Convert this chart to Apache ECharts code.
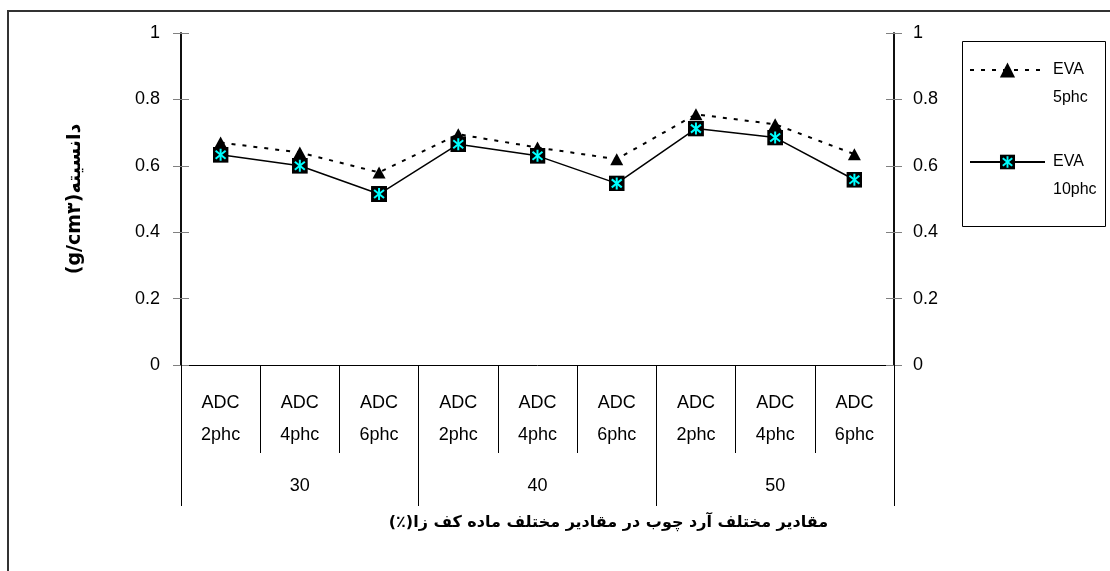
<!DOCTYPE html>
<html>
<head>
<meta charset="utf-8">
<script src="https://cdn.jsdelivr.net/npm/echarts@6/dist/echarts.min.js"></script>
<style>
html,body{margin:0;padding:0;background:#fff;}
#chart{width:1110px;height:571px;}
</style>
</head>
<body>
<div id="chart"></div>
<script>
// ---- data ----
const categories = ['ADC\n2phc','ADC\n4phc','ADC\n6phc','ADC\n2phc','ADC\n4phc','ADC\n6phc','ADC\n2phc','ADC\n4phc','ADC\n6phc'];
const groups = ['30','40','50'];
const seriesNames = ['EVA\n5phc','EVA\n10phc'];
const eva5 = [0.67, 0.64, 0.58, 0.695, 0.655, 0.62, 0.755, 0.725, 0.635];
const eva10 = [0.633, 0.60, 0.515, 0.665, 0.63, 0.547, 0.712, 0.685, 0.558];
const yTicks = {min: 0, max: 1, interval: 0.2};
const xTitle = '\u202Bمقادیر مختلف آرد چوب در مقادیر مختلف ماده کف زا(٪)\u202C';
const yTitle = '(g/cm\u06F3)دانسیته';

// ---- symbols ----
const svg = '<svg xmlns="http://www.w3.org/2000/svg" width="32" height="32" viewBox="0 0 16 16">' +
  '<rect x="0" y="0" width="16" height="16" fill="#000"/>' +
  '<g stroke="#00FFFF" stroke-width="2" stroke-linecap="butt">' +
  '<line x1="8" y1="2" x2="8" y2="14"/>' +
  '<line x1="3" y1="4" x2="13" y2="12"/>' +
  '<line x1="13" y1="4" x2="3" y2="12"/>' +
  '</g></svg>';
const sqSymbol = 'image://data:image/svg+xml;utf8,' + encodeURIComponent(svg);

const chart = echarts.init(document.getElementById('chart'));
const baseFont = "'Liberation Sans', Arial, sans-serif";
const tickGray = '#808080';

function yAx(pos, inside, withLabels) {
  return {
    type: 'value', position: pos, min: yTicks.min, max: yTicks.max, interval: yTicks.interval,
    splitLine: {show: false},
    axisLine: {show: true, onZero: false, lineStyle: {color: '#000', width: 1.5}},
    axisTick: {show: true, inside: inside, length: 8, lineStyle: {color: tickGray, width: 1}},
    axisLabel: {show: withLabels, fontSize: 18, color: '#000', fontFamily: baseFont, margin: pos === 'left' ? 21 : 19}
  };
}

const yAxes = [yAx('left', false, true), yAx('left', true, false), yAx('right', false, true), yAx('right', true, false)];
yAxes[0].name = yTitle;
yAxes[0].nameLocation = 'middle';
yAxes[0].nameGap = 96;
yAxes[0].nameTextStyle = {fontSize: 19, fontWeight: 'bold', color: '#000', fontFamily: "'DejaVu Sans', sans-serif"};

const option = {
  animation: false,
  backgroundColor: '#fff',
  grid: {left: 181, right: 216, top: 33, bottom: 206, containLabel: false},
  xAxis: [
    {
      type: 'category', data: categories, position: 'bottom', boundaryGap: true,
      axisLine: {show: true, onZero: false, lineStyle: {color: '#000', width: 1}},
      axisTick: {show: true, interval: 0, length: 88, lineStyle: {color: '#000', width: 1}},
      axisLabel: {interval: 0, fontSize: 18, lineHeight: 32, margin: 22, color: '#000', fontFamily: baseFont}
    },
    {
      type: 'category', data: groups, position: 'bottom', boundaryGap: true,
      axisLine: {show: false, onZero: false},
      axisTick: {show: true, interval: 0, length: 141, lineStyle: {color: '#000', width: 1}},
      axisLabel: {interval: 0, fontSize: 18, margin: 112, color: '#000', fontFamily: baseFont},
      name: xTitle, nameLocation: 'middle', nameGap: 150,
      nameTextStyle: {fontSize: 16, fontWeight: 'bold', color: '#000', fontFamily: "'DejaVu Sans', sans-serif", padding: [0, 0, 0, 142]}
    }
  ],
  yAxis: yAxes,
  legend: {
    orient: 'vertical', left: 969, top: 28, padding: 0, itemGap: 8,
    itemWidth: 75, itemHeight: 19,
    data: seriesNames,
    formatter: function (n) { return '\n' + n; },
    textStyle: {fontSize: 16, lineHeight: 28, color: '#000', fontFamily: baseFont, padding: [0, 0, 0, 3]}
  },
  graphic: [
    {type: 'rect', silent: true, shape: {x: 8, y: 11, width: 1200, height: 700}, style: {fill: 'none', stroke: '#333', lineWidth: 2}},
    {type: 'rect', silent: true, shape: {x: 962.5, y: 41.5, width: 143, height: 185}, style: {fill: 'none', stroke: '#000', lineWidth: 1}}
  ],
  series: [
    {
      name: seriesNames[0], type: 'line', data: eva5, xAxisIndex: 0, yAxisIndex: 0,
      symbol: 'triangle', symbolSize: [13, 12], showAllSymbol: true,
      lineStyle: {color: '#000', width: 2, type: [4, 7]},
      itemStyle: {color: '#000'}
    },
    {
      name: seriesNames[1], type: 'line', data: eva10, xAxisIndex: 0, yAxisIndex: 0,
      symbol: sqSymbol, symbolSize: 16, showAllSymbol: true,
      lineStyle: {color: '#000', width: 1.5, type: 'solid'},
      itemStyle: {color: '#000'}
    }
  ]
};
chart.setOption(option);
</script>
</body>
</html>
